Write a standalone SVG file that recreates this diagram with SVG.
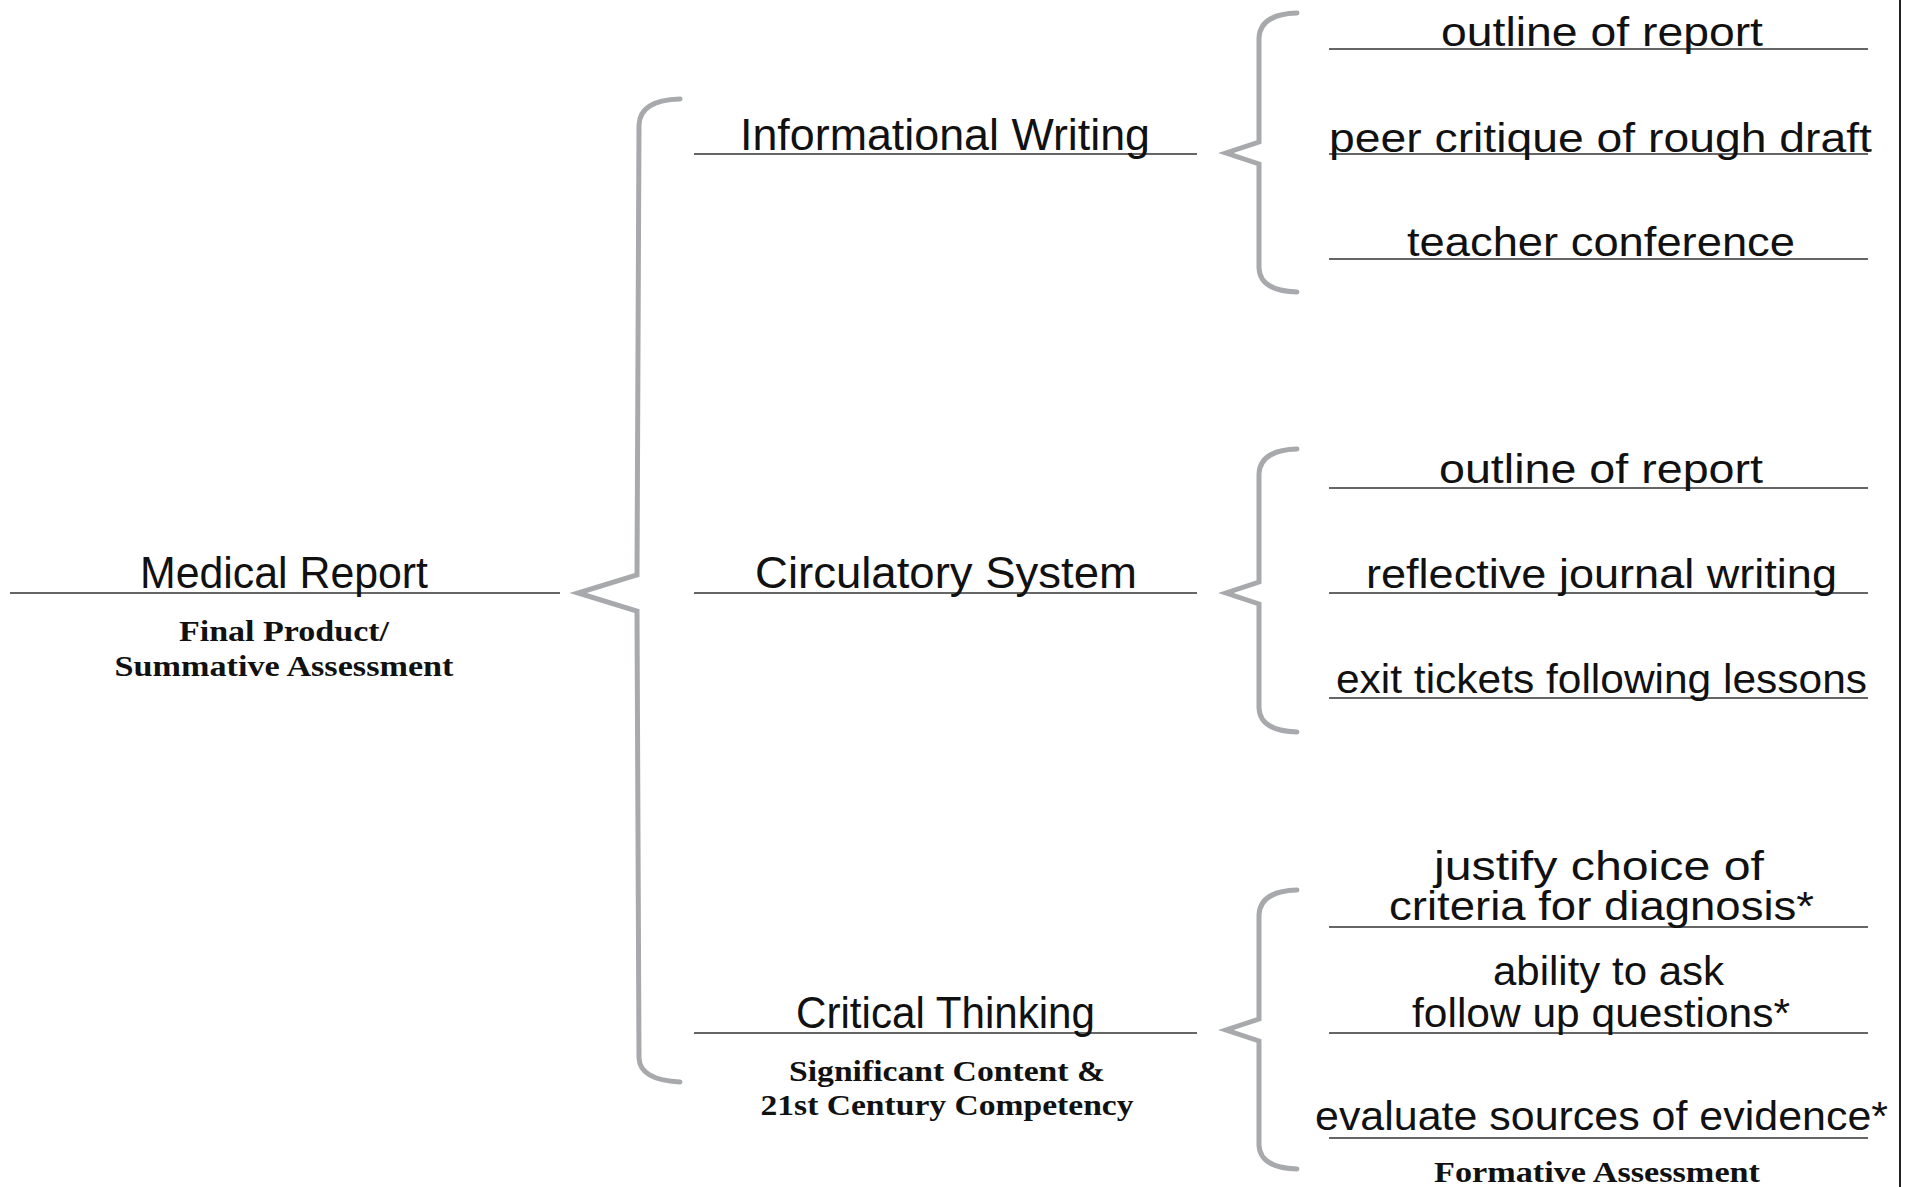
<svg xmlns="http://www.w3.org/2000/svg" width="1906" height="1187" viewBox="0 0 1906 1187">
<style>
.hw{font-family:"Liberation Sans Narrow","Liberation Sans",Arial,sans-serif;fill:#111;}
.hm{font-size:44px;}
.hr{font-size:40px;}
.sb{font-family:"Liberation Serif","Times New Roman",serif;font-weight:bold;font-size:30px;fill:#111;text-anchor:middle;}
.rule{stroke:#333;stroke-width:1.5;fill:none;}
.brace{stroke:#a7a9ac;stroke-width:5;fill:none;stroke-linecap:round;stroke-linejoin:miter;}
</style>
<rect x="0" y="0" width="1906" height="1187" fill="#fff"/>
<line x1="1900" y1="0" x2="1900" y2="1187" stroke="#222" stroke-width="2"/>

<g id="connectors">
  <path class="brace" d="M680 99 Q640 100 639 125 L637 575 L578 593 L637 611 L639 1058 Q640 1080 680 1082"/>
  <path class="brace" d="M1297 13 Q1260 14 1259 38 L1259 142 L1226 153 L1259 164 L1259 268 Q1260 291 1297 292"/>
  <path class="brace" d="M1297 449 Q1260 450 1259 474 L1259 582 L1226 593 L1259 604 L1259 708 Q1260 731 1297 732"/>
  <path class="brace" d="M1297 890 Q1260 891 1259 915 L1259 1019 L1226 1030 L1259 1041 L1259 1145 Q1260 1168 1297 1169"/>
</g>

<g id="medical-report">
  <line class="rule" x1="10" y1="593" x2="560" y2="593"/>
  <text class="hw hm" x="140" y="588" textLength="288" lengthAdjust="spacingAndGlyphs">Medical Report</text>
  <text class="sb" x="284" y="641" textLength="210" lengthAdjust="spacingAndGlyphs">Final Product/</text>
  <text class="sb" x="284" y="676" textLength="339" lengthAdjust="spacingAndGlyphs">Summative Assessment</text>
</g>

<g id="informational-writing">
  <line class="rule" x1="694" y1="154" x2="1197" y2="154"/>
  <text class="hw hm" x="740" y="150" textLength="410" lengthAdjust="spacingAndGlyphs">Informational Writing</text>
</g>

<g id="circulatory-system">
  <line class="rule" x1="694" y1="593" x2="1197" y2="593"/>
  <text class="hw hm" x="755" y="588" textLength="382" lengthAdjust="spacingAndGlyphs">Circulatory System</text>
</g>

<g id="critical-thinking">
  <line class="rule" x1="694" y1="1033" x2="1197" y2="1033"/>
  <text class="hw hm" x="796" y="1028" textLength="299" lengthAdjust="spacingAndGlyphs">Critical Thinking</text>
  <text class="sb" x="947" y="1081" textLength="316" lengthAdjust="spacingAndGlyphs">Significant Content &amp;</text>
  <text class="sb" x="947" y="1115" textLength="373" lengthAdjust="spacingAndGlyphs">21st Century Competency</text>
</g>

<g id="iw-outline">
  <line class="rule" x1="1329" y1="49" x2="1868" y2="49"/>
  <text class="hw hr" x="1441" y="46" textLength="322" lengthAdjust="spacingAndGlyphs">outline of report</text>
</g>
<g id="iw-peer">
  <line class="rule" x1="1329" y1="154" x2="1868" y2="154"/>
  <text class="hw hr" x="1329" y="152" textLength="543" lengthAdjust="spacingAndGlyphs">peer critique of rough draft</text>
</g>
<g id="iw-teacher">
  <line class="rule" x1="1329" y1="259" x2="1868" y2="259"/>
  <text class="hw hr" x="1407" y="256" textLength="388" lengthAdjust="spacingAndGlyphs">teacher conference</text>
</g>

<g id="cs-outline">
  <line class="rule" x1="1329" y1="488" x2="1868" y2="488"/>
  <text class="hw hr" x="1439" y="483" textLength="324" lengthAdjust="spacingAndGlyphs">outline of report</text>
</g>
<g id="cs-journal">
  <line class="rule" x1="1329" y1="593" x2="1868" y2="593"/>
  <text class="hw hr" x="1366" y="588" textLength="471" lengthAdjust="spacingAndGlyphs">reflective journal writing</text>
</g>
<g id="cs-exit">
  <line class="rule" x1="1329" y1="698" x2="1868" y2="698"/>
  <text class="hw hr" x="1336" y="693" textLength="531" lengthAdjust="spacingAndGlyphs">exit tickets following lessons</text>
</g>

<g id="ct-justify">
  <line class="rule" x1="1329" y1="927" x2="1868" y2="927"/>
  <text class="hw hr" x="1434" y="880" textLength="330" lengthAdjust="spacingAndGlyphs">justify choice of</text>
  <text class="hw hr" x="1389" y="920" textLength="425" lengthAdjust="spacingAndGlyphs">criteria for diagnosis*</text>
</g>
<g id="ct-ability">
  <line class="rule" x1="1329" y1="1033" x2="1868" y2="1033"/>
  <text class="hw hr" x="1493" y="985" textLength="231" lengthAdjust="spacingAndGlyphs">ability to ask</text>
  <text class="hw hr" x="1412" y="1027" textLength="378" lengthAdjust="spacingAndGlyphs">follow up questions*</text>
</g>
<g id="ct-evaluate">
  <line class="rule" x1="1329" y1="1138" x2="1868" y2="1138"/>
  <text class="hw hr" x="1315" y="1130" textLength="573" lengthAdjust="spacingAndGlyphs">evaluate sources of evidence*</text>
</g>

<g id="formative-label">
  <text class="sb" x="1597" y="1182" textLength="326" lengthAdjust="spacingAndGlyphs">Formative Assessment</text>
</g>
</svg>
